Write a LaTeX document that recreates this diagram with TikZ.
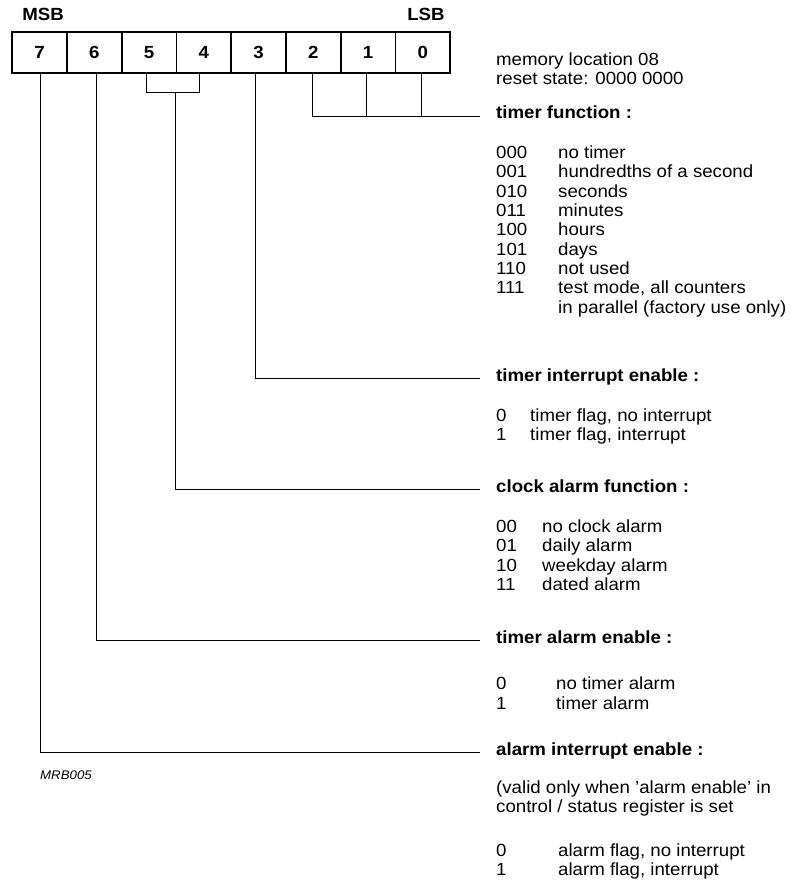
\documentclass[tikz,border=0pt]{standalone}
\usepackage{fontspec}
\setmainfont{Liberation Sans}[FakeStretch=1.06]
\usetikzlibrary{calc}
\begin{document}
\begin{tikzpicture}[x=1pt,y=-1pt,
  cell/.style={draw,line width=1.8pt,minimum width=54.75pt,minimum height=41pt,inner sep=0pt,font=\fontsize{17.6}{21}\selectfont\bfseries},
  txt/.style={anchor=west,inner sep=0pt,font=\fontsize{17.6}{21}\selectfont,text height=0.75em,text depth=0.05em},
  hdr/.style={txt,font=\fontsize{17.6}{21}\selectfont\bfseries},
  conn/.style={line width=1pt}]
\useasboundingbox (0,0) rectangle (791,886);
% register cells
\foreach \b [count=\i from 0] in {7,6,5,4,3,2,1,0}
  \node[cell] (b\b) at (12.3+27.375+54.75*\i, 52.5) {\b};
\node[hdr,anchor=center] (msb) at (43,17) {MSB};
\node[hdr,anchor=center] (lsb) at (426,17) {LSB};
% header text
\node[txt] (mem) at (496,62) {memory location 08};
\node[txt] (rst) at (496,81) {reset state: 0000 0000};
% timer function
\node[hdr] (tf) at (496,115) {timer function :};
\foreach \c/\d/\y [count=\k] in {000/no timer/155,001/hundredths of a second/174,010/seconds/194,011/minutes/213,100/hours/232,101/days/252,110/not used/271,111/test mode{,} all counters/290}{
  \node[txt] (tfc\k) at (496,\y) {\c};
  \node[txt] (tfd\k) at (558,\y) {\d};
}
\node[txt] (tfd9) at (558,310) {in parallel (factory use only)};
% timer interrupt enable
\node[hdr] (tie) at (496,378) {timer interrupt enable :};
\node[txt] (tiec1) at (496,418) {0};
\node[txt] (tied1) at (530,418) {timer flag, no interrupt};
\node[txt] (tiec2) at (496,437) {1};
\node[txt] (tied2) at (530,437) {timer flag, interrupt};
% clock alarm function
\node[hdr] (caf) at (496,489) {clock alarm function :};
\foreach \c/\d/\y [count=\k] in {00/no clock alarm/529,01/daily alarm/548,10/weekday alarm/568,11/dated alarm/587}{
  \node[txt] (cafc\k) at (496,\y) {\c};
  \node[txt] (cafd\k) at (542,\y) {\d};
}
% timer alarm enable
\node[hdr] (tae) at (496,640) {timer alarm enable :};
\node[txt] (taec1) at (496,686) {0};
\node[txt] (taed1) at (556,686) {no timer alarm};
\node[txt] (taec2) at (496,706) {1};
\node[txt] (taed2) at (556,706) {timer alarm};
% alarm interrupt enable
\node[hdr] (aie) at (496,752) {alarm interrupt enable :};
\node[txt] (aiev1) at (496,790) {(valid only when 'alarm enable' in};
\node[txt] (aiev2) at (496,809) {control / status register is set};
\node[txt] (aiec1) at (496,853) {0};
\node[txt] (aied1) at (558,853) {alarm flag, no interrupt};
\node[txt] (aiec2) at (496,872) {1};
\node[txt] (aied2) at (558,872) {alarm flag, interrupt};
\node[txt,font=\fontsize{12.5}{15}\selectfont\itshape] (mrb) at (40,776) {MRB005};
% end points of connectors
\coordinate (e0) at ([xshift=-16pt]tf.west |- 0,116);
\coordinate (e3) at ([xshift=-16pt]tie.west);
\coordinate (e5) at ([xshift=-16pt]caf.west);
\coordinate (e6) at ([xshift=-16pt]tae.west);
\coordinate (e7) at ([xshift=-16pt]aie.west);
\coordinate (m54) at ($(b5.south)!0.5!(b4.south)+(-1,19)$);
% connectors
\draw[conn] ([xshift=-0.5pt]b2.south) |- (e0);
\draw[conn] ([xshift=-1.5pt]b1.south) -- ([xshift=-1.5pt]b1.south |- e0);
\draw[conn] ([xshift=-1.8pt]b0.south) -- ([xshift=-1.8pt]b0.south |- e0);
\draw[conn] ([xshift=-3pt]b3.south) |- (e3);
\draw[conn] ([xshift=-2.5pt]b5.south) |- (m54) -| ([xshift=-4pt]b4.south);
\draw[conn] (m54) |- (e5);
\draw[conn] ([xshift=2.5pt]b6.south) |- (e6);
\draw[conn] ([xshift=1pt]b7.south) |- (e7);
\end{tikzpicture}
\end{document}
